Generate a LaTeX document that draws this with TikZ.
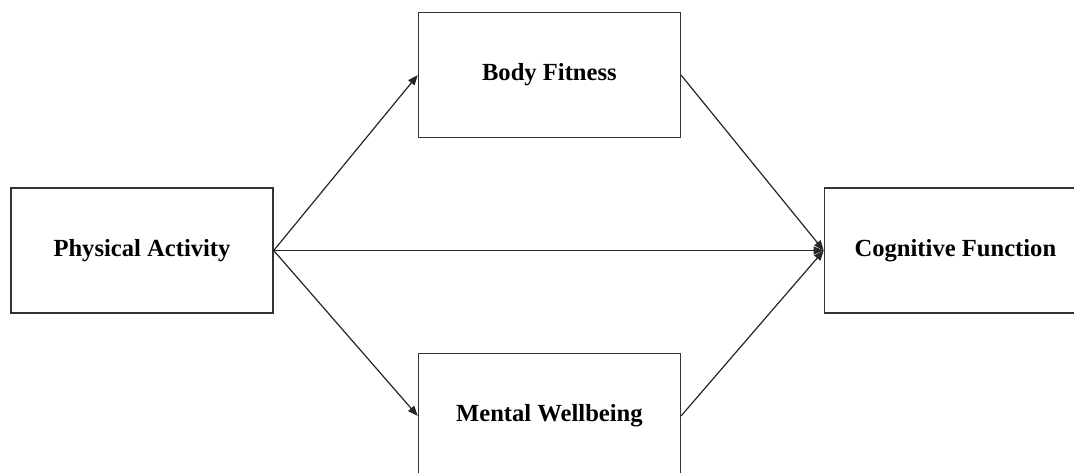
\documentclass[tikz,border=0pt]{standalone}
\usepackage{fontspec}
\setmainfont{Liberation Serif}
\usetikzlibrary{arrows.meta,positioning}

\begin{document}
\begin{tikzpicture}[
node distance=72pt,
box/.style={draw=black!80, line width=0.7pt, align=center, minimum width=131pt, minimum height=62.5pt, font=\fontsize{12.3}{14}\selectfont\bfseries},
arrow/.style={-{Triangle[length=5pt,width=4pt]}, line width=0.6pt, draw=black!85}
]
\clip (-71pt,-110.75pt) rectangle (466pt,125.25pt);
\node[box] (activity) at (0,0) {Physical Activity};
\node[box, above right=24.5pt and 72pt of activity] (fitness) {Body Fitness};
\node[box, below right=19.5pt and 72pt of activity] (wellbeing) {Mental Wellbeing};
\node[box, right=275pt of activity] (cognition) {Cognitive Function};
\draw[arrow] (activity.east) -- (fitness.west);
\draw[arrow] (activity.east) -- (wellbeing.west);
\draw[arrow] (activity.east) -- (cognition.west);
\draw[arrow] (fitness.east) -- (cognition.west);
\draw[arrow] (wellbeing.east) -- (cognition.west);
\end{tikzpicture}
\end{document}
